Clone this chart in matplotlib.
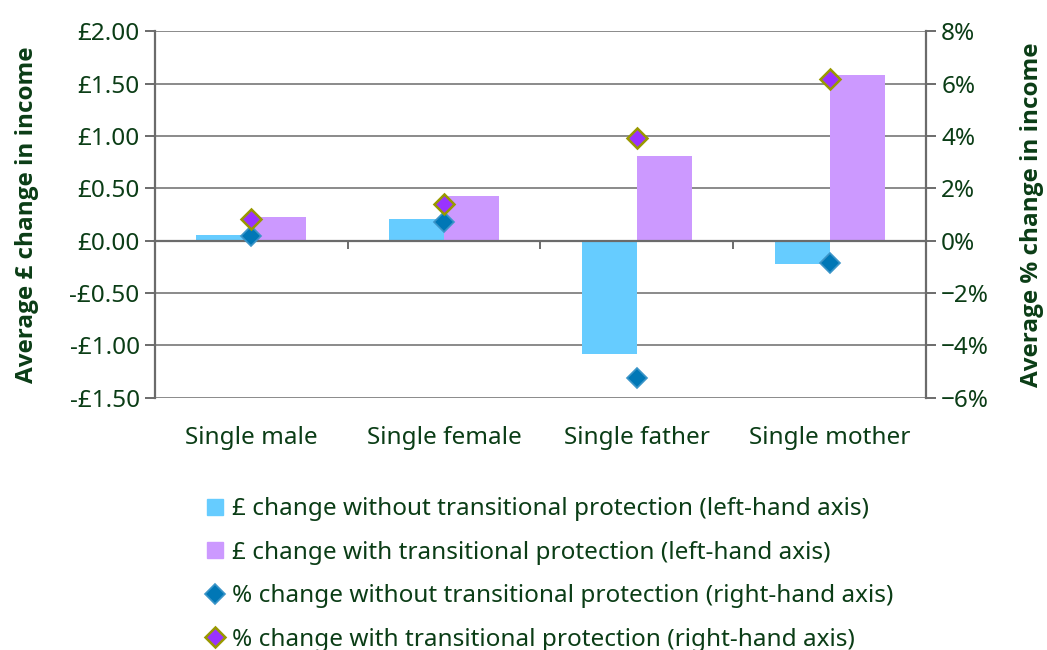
#!/usr/bin/env python3
"""Average change in income by family type, with/without transitional protection."""
import numpy as np
import matplotlib
matplotlib.use("Agg")
import matplotlib.pyplot as plt
from matplotlib.lines import Line2D
from matplotlib.transforms import blended_transform_factory

plt.rcParams.update({
    'font.family': ['Noto Sans', 'DejaVu Sans'],
    'font.size': 17.5,
})

TEXT = "#0b3d16"
AXC = "#6b6b6b"
FS = 17.5

categories = ["Single male", "Single female", "Single father", "Single mother"]
gbp_without = [0.05, 0.21, -1.08, -0.22]
gbp_with = [0.23, 0.43, 0.81, 1.58]
pct_without = [0.19, 0.70, -5.23, -0.87]
pct_with = [0.83, 1.42, 3.94, 6.19]

left_ticks = [-1.5, -1.0, -0.5, 0.0, 0.5, 1.0, 1.5, 2.0]
right_ticks = [-6, -4, -2, 0, 2, 4, 6, 8]

labels = [
    "£ change without transitional protection (left-hand axis)",
    "£ change with transitional protection (left-hand axis)",
    "% change without transitional protection (right-hand axis)",
    "% change with transitional protection (right-hand axis)",
]


def fmt_gbp(v):
    return f"-£{abs(v):.2f}" if v < 0 else f"£{v:.2f}"


def fmt_pct(v):
    return f"−{abs(v)}%" if v < 0 else f"{v}%"


fig = plt.figure(figsize=(10.47, 6.5), dpi=100)
ax = fig.add_axes([0.148, 0.388, 0.7364, 0.564])
x = np.arange(len(categories))
w = 0.285

ax.bar(x, gbp_without, width=-w, align='edge', color="#66ccff", zorder=2)
ax.bar(x, gbp_with, width=w, align='edge', color="#cc99ff", zorder=2)

ax.set_xlim(-0.5, len(categories) - 0.5)
ax.set_ylim(left_ticks[0], left_ticks[-1])
ax.set_yticks(left_ticks)
ax.set_yticklabels([fmt_gbp(v) for v in left_ticks], color=TEXT, fontsize=FS)
ax.yaxis.grid(True, color="#8a8a8a", linewidth=1.4, zorder=0)
ax.set_axisbelow(True)

ax.spines["top"].set_visible(False)
ax.spines["bottom"].set_position(("data", 0))
ax.spines["bottom"].set_color(AXC)
ax.spines["bottom"].set_linewidth(1.6)
ax.spines["bottom"].set_zorder(3)
ax.spines["left"].set_color(AXC)
ax.spines["left"].set_linewidth(1.6)
ax.spines["right"].set_visible(False)
ax.set_xticks(np.arange(-0.5, len(categories), 1.0))
ax.set_xticklabels([])
ax.tick_params(axis='x', direction='out', length=6, width=1.4, color=AXC)
ax.tick_params(axis='y', direction='out', length=7, width=1.4, color=AXC, pad=4)

tr = blended_transform_factory(ax.transData, ax.transAxes)
for xi, c in zip(x, categories):
    ax.text(xi, -0.11, c, transform=tr, ha='center', va='center',
            color=TEXT, fontsize=FS)

ax.set_ylabel("Average £ change in income", color=TEXT, fontsize=FS,
              family=['Open Sans', 'DejaVu Sans'], fontweight='bold', labelpad=22)

ax2 = ax.twinx()
ax2.set_ylim(right_ticks[0], right_ticks[-1])
ax2.set_yticks(right_ticks)
ax2.set_yticklabels([fmt_pct(v) for v in right_ticks], color=TEXT, fontsize=FS)
for s in ["top", "bottom", "left"]:
    ax2.spines[s].set_visible(False)
ax2.spines["right"].set_color(AXC)
ax2.spines["right"].set_linewidth(1.6)
ax2.tick_params(axis='y', direction='out', length=7, width=1.4, color=AXC, pad=4)
ax2.plot(x, pct_without, 'D', linestyle='none', markersize=10,
         markerfacecolor="#0077b6", markeredgecolor="#3b95c8", markeredgewidth=1.2,
         zorder=4, clip_on=False)
ax2.plot(x, pct_with, 'D', linestyle='none', markersize=10,
         markerfacecolor="#9933ff", markeredgecolor="#999900", markeredgewidth=1.8,
         zorder=4, clip_on=False)
ax2.set_ylabel("Average % change in income", color=TEXT, fontsize=FS,
               family=['Open Sans', 'DejaVu Sans'], fontweight='bold', labelpad=22)

handles = [
    Line2D([], [], marker='s', linestyle='none', markersize=11,
           markerfacecolor="#66ccff", markeredgecolor="#66ccff"),
    Line2D([], [], marker='s', linestyle='none', markersize=11,
           markerfacecolor="#cc99ff", markeredgecolor="#cc99ff"),
    Line2D([], [], marker='D', linestyle='none', markersize=10,
           markerfacecolor="#0077b6", markeredgecolor="#3b95c8", markeredgewidth=1.2),
    Line2D([], [], marker='D', linestyle='none', markersize=10,
           markerfacecolor="#9933ff", markeredgecolor="#999900", markeredgewidth=1.8),
]
leg = fig.legend(handles, labels, loc='upper left', bbox_to_anchor=(0.196, 0.235),
                 frameon=False, fontsize=FS, labelspacing=0.8, handlelength=0.8,
                 handletextpad=0.3, borderaxespad=0, borderpad=0)
for t in leg.get_texts():
    t.set_color(TEXT)

fig.savefig("out.png", dpi=100)
